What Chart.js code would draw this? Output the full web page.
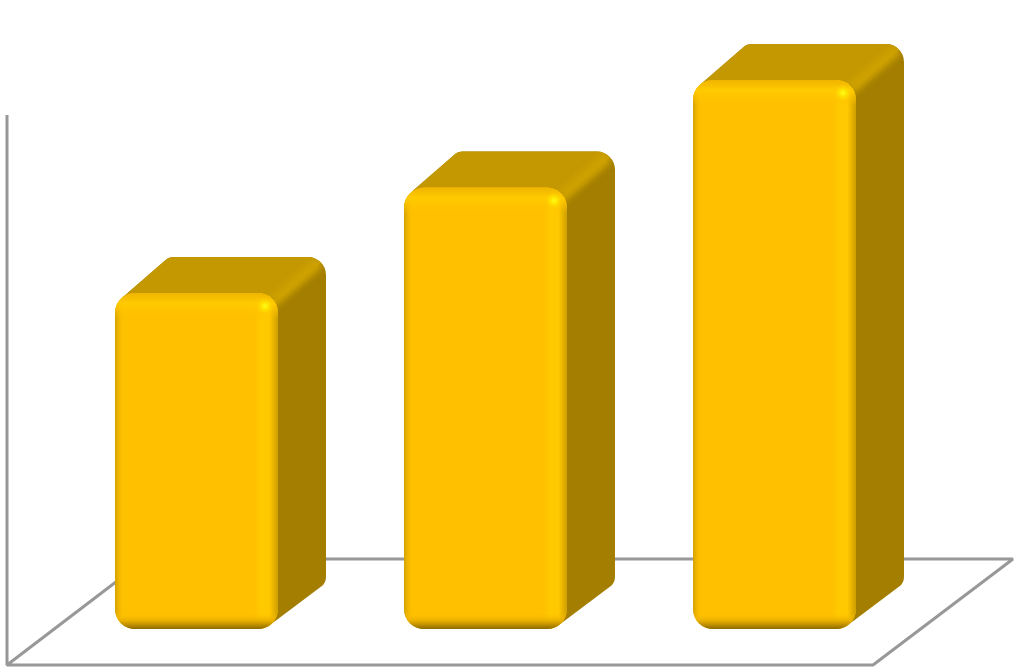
<!DOCTYPE html>
<html>
<head>
<meta charset="utf-8">
<style>
  html, body { margin: 0; padding: 0; background: #fff; }
  canvas { display: block; }
</style>
<script src="https://cdn.jsdelivr.net/npm/chart.js@4"></script>
</head>
<body>
<canvas id="chart" width="1024" height="671"></canvas>
<script>
const categories = ['1', '2', '3'];
const values = [3.06, 4.02, 5];
const yMax = 5;

const depthX = 48, depthY = -36, radius = 20;

// polygon with rounded corners, pts = [x, y, r]
function roundPoly(ctx, pts) {
  const n = pts.length;
  ctx.beginPath();
  ctx.moveTo((pts[n - 1][0] + pts[0][0]) / 2, (pts[n - 1][1] + pts[0][1]) / 2);
  for (let i = 0; i < n; i++) {
    const p = pts[i], q = pts[(i + 1) % n];
    ctx.arcTo(p[0], p[1], (p[0] + q[0]) / 2, (p[1] + q[1]) / 2, p[2]);
  }
  ctx.closePath();
}

function barBox(bar) {
  const p = bar.getProps(['x', 'y', 'base', 'width'], true);
  return { x0: p.x - p.width / 2, x1: p.x + p.width / 2, y0: p.y, y1: p.base };
}

// floor, wall and the top/side faces go under the bars
const backFaces = {
  id: 'backFaces',
  beforeDatasetsDraw(chart) {
    const ctx = chart.ctx, a = chart.chartArea;
    const base = chart.scales.y.getPixelForValue(0), top = chart.scales.y.getPixelForValue(yMax);
    ctx.save();
    ctx.strokeStyle = '#989898';
    ctx.lineWidth = 3;
    ctx.lineJoin = 'bevel';
    ctx.beginPath();
    ctx.moveTo(a.left - 45, top + 35);
    ctx.lineTo(a.left - 45, base + 36);
    ctx.lineTo(a.right - 46, base + 36);
    ctx.lineTo(a.right + 94, base - 70);
    ctx.lineTo(a.left + 94, base - 70);
    ctx.moveTo(a.left - 45, base + 36);
    ctx.lineTo(a.left + 94, base - 70);
    ctx.stroke();

    chart.getDatasetMeta(0).data.forEach(bar => {
      const b = barBox(bar);
      // full silhouette in the side colour, leaving the front corners tangentially
      roundPoly(ctx, [
        [b.x0 + 20, b.y0 + 20, 0],
        [b.x0 + 8, b.y0 + 4, 0],
        [b.x0 + 54, b.y0 + depthY, 13],
        [b.x1 + depthX, b.y0 + depthY, 18],
        [b.x1 + depthX, b.y1 - 46, 12],
        [b.x1 - 8, b.y1 - 4, 0],
        [b.x1 - 20, b.y1 - 20, 0]
      ]);
      ctx.fillStyle = '#a37e00';
      ctx.fill();
      ctx.save();
      ctx.clip();
      // top face
      ctx.beginPath();
      ctx.moveTo(b.x0 - 2, b.y0 + 8);
      ctx.lineTo(b.x0 + depthX, b.y0 + depthY - 2);
      ctx.lineTo(b.x1 + depthX + 4, b.y0 + depthY - 2);
      ctx.lineTo(b.x1 + 4, b.y0 + 4);
      ctx.closePath();
      ctx.fillStyle = '#c49800';
      ctx.fill();
      // soft ridge between top and side
      ctx.filter = 'blur(3px)';
      ctx.strokeStyle = '#cda100';
      ctx.lineWidth = 12;
      ctx.lineCap = 'round';
      ctx.beginPath();
      ctx.moveTo(b.x1 - 4, b.y0 + 8);
      ctx.lineTo(b.x1 + depthX - 10, b.y0 + depthY + 8);
      ctx.stroke();
      ctx.restore();
    });
    ctx.restore();
  }
};

// bevel shading on the front face, clipped to the bar
const bevel = {
  id: 'bevel',
  afterDatasetsDraw(chart) {
    const ctx = chart.ctx;
    chart.getDatasetMeta(0).data.forEach(bar => {
      const { x0, x1, y0, y1 } = barBox(bar);
      ctx.save();
      ctx.beginPath();
      ctx.roundRect(x0, y0, x1 - x0, y1 - y0, radius);
      ctx.clip();

      let g = ctx.createLinearGradient(x0, 0, x0 + 9, 0);
      g.addColorStop(0, 'rgba(205,158,0,0.9)');
      g.addColorStop(1, 'rgba(255,192,0,0)');
      ctx.fillStyle = g;
      ctx.fillRect(x0, y0, 9, y1 - y0);

      g = ctx.createLinearGradient(x1 - 24, 0, x1, 0);
      g.addColorStop(0, 'rgba(255,200,0,0)');
      g.addColorStop(0.3, 'rgba(255,202,0,1)');
      g.addColorStop(0.65, 'rgba(255,200,0,1)');
      g.addColorStop(1, 'rgba(205,158,0,1)');
      ctx.fillStyle = g;
      ctx.fillRect(x1 - 24, y0, 24, y1 - y0);

      g = ctx.createLinearGradient(0, y0, 0, y0 + 26);
      g.addColorStop(0, 'rgba(240,180,0,1)');
      g.addColorStop(0.4, 'rgba(255,203,0,1)');
      g.addColorStop(1, 'rgba(255,192,0,0)');
      ctx.fillStyle = g;
      ctx.fillRect(x0, y0, x1 - x0, 26);

      g = ctx.createLinearGradient(0, y1 - 16, 0, y1);
      g.addColorStop(0, 'rgba(255,192,0,0)');
      g.addColorStop(0.5, 'rgba(228,172,0,0.9)');
      g.addColorStop(1, 'rgba(140,105,0,1)');
      ctx.fillStyle = g;
      ctx.fillRect(x0, y1 - 16, x1 - x0, 16);

      // specular spot in the top right corner
      g = ctx.createRadialGradient(x1 - 13, y0 + 13, 0, x1 - 13, y0 + 13, 9);
      g.addColorStop(0, 'rgba(255,255,30,1)');
      g.addColorStop(0.4, 'rgba(255,235,0,0.75)');
      g.addColorStop(1, 'rgba(255,208,0,0)');
      ctx.fillStyle = g;
      ctx.fillRect(x1 - 24, y0, 24, 26);
      ctx.restore();
    });
  }
};

new Chart(document.getElementById('chart'), {
  type: 'bar',
  data: {
    labels: categories,
    datasets: [{
      data: values,
      backgroundColor: '#ffc000',
      borderWidth: 0,
      borderSkipped: false,
      borderRadius: radius,
      barPercentage: 0.564,
      categoryPercentage: 1
    }]
  },
  options: {
    responsive: false,
    animation: false,
    layout: { padding: { left: 52, right: 105, top: 80, bottom: 42 } },
    plugins: { legend: { display: false }, tooltip: { enabled: false } },
    scales: {
      x: { display: false },
      y: { display: false, min: 0, max: yMax }
    }
  },
  plugins: [backFaces, bevel]
});
</script>
</body>
</html>
